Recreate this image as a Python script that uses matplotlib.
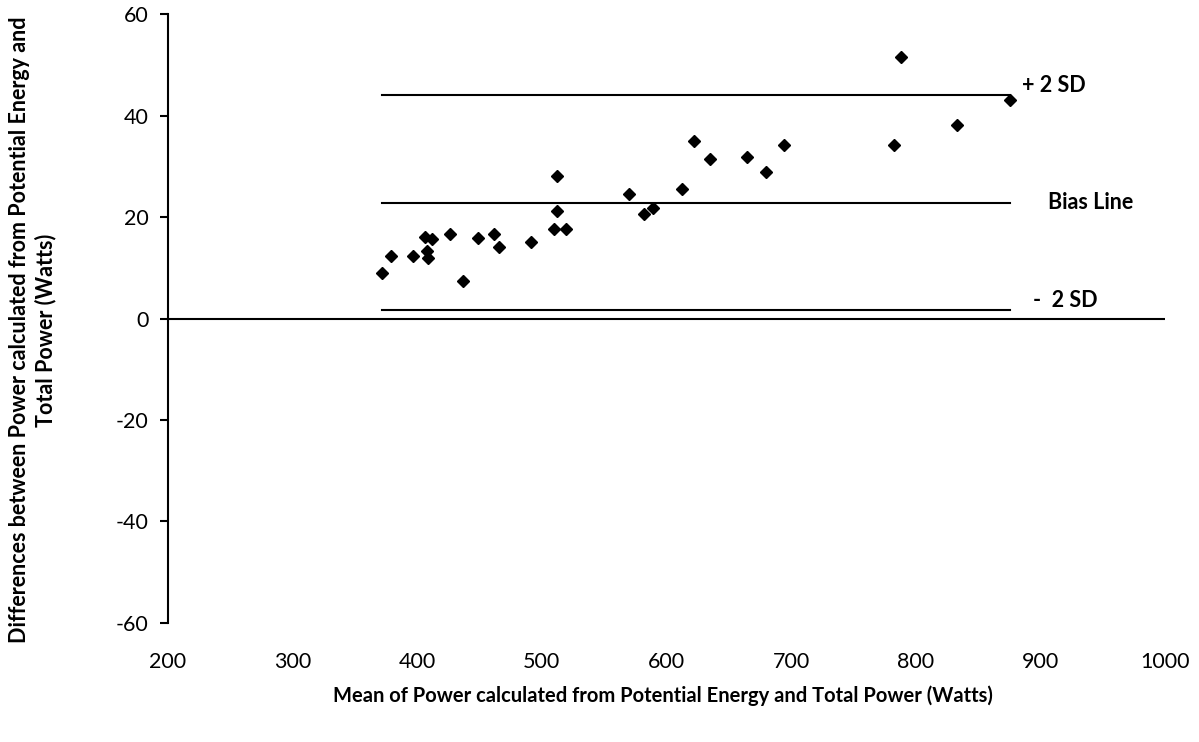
import matplotlib
matplotlib.use("Agg")
from matplotlib import pyplot as plt

plt.rcParams["font.family"] = ["Lato", "DejaVu Sans"]
plt.rcParams["axes.unicode_minus"] = False

# mean of the two methods (Watts) and their difference (Watts)
mean_power = [372, 379, 397, 406, 412, 408, 409, 426, 436.5, 448.5,
              461.6, 465.3, 491.3, 512, 512, 510, 519.6, 570, 582, 589.5,
              612.5, 622, 634.6, 665, 680, 694.4, 782.4, 788.3, 833, 875.7]
diff_power = [9.0, 12.3, 12.3, 16.1, 15.6, 13.4, 11.9, 16.6, 7.4, 15.8,
              16.6, 14.1, 15.0, 28.1, 21.2, 17.6, 17.6, 24.5, 20.6, 21.8,
              25.6, 35.0, 31.5, 31.9, 28.8, 34.2, 34.2, 51.6, 38.1, 43.0]

bias = 22.8
upper_sd = 44.0
lower_sd = 1.6
line_range = [371.5, 875.7]

fig = plt.figure(figsize=(11.99, 7.42), dpi=100)
ax = fig.add_axes([0.1401, 0.1604, 0.8315, 0.8207])

ax.plot(mean_power, diff_power, "kD", ms=6.5, zorder=3, linestyle="none")
for level in (upper_sd, bias, lower_sd):
    ax.plot(line_range, [level, level], "k-", lw=1.5)
ax.axhline(0, color="k", lw=1.5)

ax.text(885, upper_sd + 2.0, "+ 2 SD", fontsize=15.5, fontweight="bold", va="center")
ax.text(906, bias, "Bias Line", fontsize=15.5, fontweight="bold", va="center")
ax.text(894, lower_sd + 2.0, "-  2 SD", fontsize=15.5, fontweight="bold", va="center")

ax.set_xlim(200, 1000)
ax.set_ylim(-60, 60)
ax.set_xticks(range(200, 1001, 100))
ax.set_yticks(range(-60, 61, 20))
for side in ("top", "right", "bottom"):
    ax.spines[side].set_visible(False)
ax.spines["left"].set_linewidth(1.5)
ax.tick_params(axis="y", length=6, width=1.5, labelsize=15.5, pad=8)
ax.tick_params(axis="x", length=0, labelsize=15.5, pad=21)

fig.text(0.553, 0.063, "Mean of Power calculated from Potential Energy and Total Power (Watts)",
         ha="center", va="center", fontsize=14.5, fontweight="bold")
fig.text(0.027, 0.555,
         "Differences between Power calculated from Potential Energy and\nTotal Power (Watts)",
         ha="center", va="center", rotation=90, fontsize=15.5, fontweight="bold",
         linespacing=1.25)

fig.savefig("out.png", dpi=100)
